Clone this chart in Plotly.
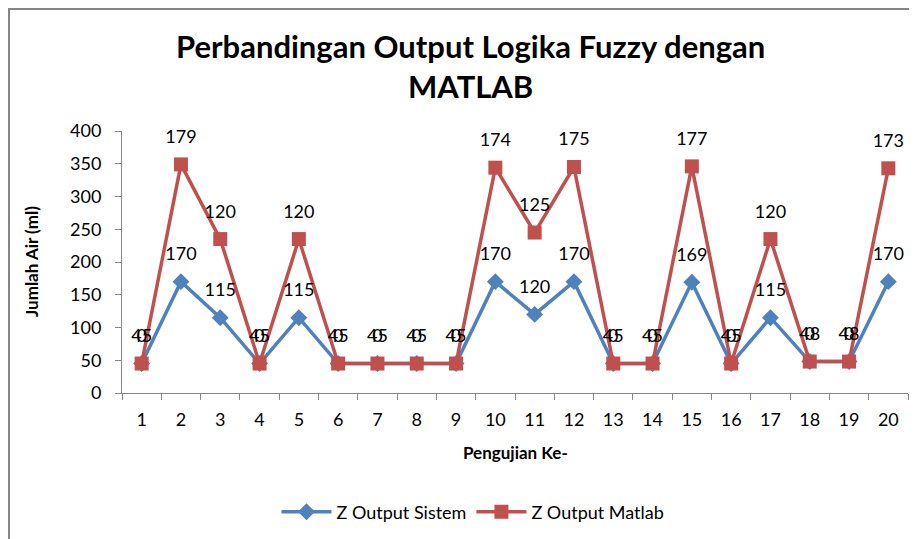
import plotly.graph_objects as go

categories = [str(i) for i in range(1, 21)]
sistem = [45, 170, 115, 45, 115, 45, 45, 45, 45, 170, 120, 170, 45, 45, 169, 45, 115, 48, 48, 170]
matlab = [0, 179, 120, 0, 120, 0, 0, 0, 0, 174, 125, 175, 0, 0, 177, 0, 120, 0, 0, 173]
y_ticks = [0, 50, 100, 150, 200, 250, 300, 350, 400]

BLUE = "#4F81BD"
RED = "#C0504D"
FONT = "Lato, Open Sans, sans-serif"
LABEL_LIFT = 26  # gap between marker and its data label (axis units)

# stacked line chart (Excel style): Matlab series drawn on top of Sistem
matlab_stacked = [a + b for a, b in zip(sistem, matlab)]

W, H = 917, 539
OFF = 8  # page body margin
L = 122 - OFF
T = 131 - OFF
R = W - (908 - OFF)
B = H - (393 - OFF)
PW, PH = W - L - R, H - T - B


def px_x(x):
    return (x - OFF - L) / PW


def px_y(y):
    return (H - B - (y - OFF)) / PH


fig = go.Figure()
fig.add_trace(go.Scatter(
    x=categories, y=sistem, name="Z Output Sistem",
    mode="lines+markers",
    line=dict(color=BLUE, width=3.5),
    marker=dict(symbol="diamond", size=13, color=BLUE),
))
fig.add_trace(go.Scatter(
    x=categories, y=matlab_stacked, name="Z Output Matlab",
    mode="lines+markers",
    line=dict(color=RED, width=3.5),
    marker=dict(symbol="square", size=14, color=RED),
))
for vals, pos in ((sistem, sistem), (matlab, matlab_stacked)):
    fig.add_trace(go.Scatter(
        x=categories, y=[p + LABEL_LIFT for p in pos], mode="text",
        text=[str(v) for v in vals], textposition="top center",
        textfont=dict(family=FONT, size=18, color="#000000"),
        cliponaxis=False, showlegend=False, hoverinfo="skip",
    ))

fig.update_layout(
    width=W, height=H,
    margin=dict(l=L, r=R, t=T, b=B, autoexpand=False),
    paper_bgcolor="white", plot_bgcolor="white",
    font=dict(family=FONT, color="#000000"),
    showlegend=True,
    legend=dict(
        orientation="h", x=px_x(473), xanchor="center", y=px_y(512), yanchor="middle",
        font=dict(family=FONT, size=18, color="#000000"),
        itemwidth=50,
    ),
    xaxis=dict(
        type="category", range=[-0.5, 19.5], tickson="boundaries", ticks="outside", ticklen=6,
        tickcolor="#868686", showline=True, linecolor="#868686", linewidth=1,
        showgrid=False, tickfont=dict(family=FONT, size=18), automargin=False,
        ticklabelstandoff=10,
    ),
    yaxis=dict(
        range=[0, 400], tickvals=y_ticks, ticks="outside", ticklen=6,
        tickcolor="#868686", showline=True, linecolor="#868686", linewidth=1,
        showgrid=False, zeroline=False, tickfont=dict(family=FONT, size=18), automargin=False,
        ticklabelstandoff=10,
    ),
    annotations=[
        dict(text="<b>Perbandingan Output Logika Fuzzy dengan</b>", xref="paper", yref="paper",
             x=px_x(470), y=px_y(46), xanchor="center", yanchor="middle",
             showarrow=False, font=dict(family=FONT, size=31)),
        dict(text="<b>MATLAB</b>", xref="paper", yref="paper",
             x=px_x(470), y=px_y(86), xanchor="center", yanchor="middle",
             showarrow=False, font=dict(family=FONT, size=31)),
        dict(text="<b>Pengujian Ke-</b>", xref="paper", yref="paper",
             x=px_x(515), y=px_y(452), xanchor="center", yanchor="middle",
             showarrow=False, font=dict(family=FONT, size=17)),
        dict(text="<b>Jumlah Air (ml)</b>", xref="paper", yref="paper",
             x=px_x(31), y=px_y(262), xanchor="center", yanchor="middle", textangle=-90,
             showarrow=False, font=dict(family=FONT, size=17)),
    ],
    shapes=[dict(
        type="rect", xref="paper", yref="paper",
        x0=px_x(9), x1=px_x(912), y0=px_y(560), y1=px_y(9),
        line=dict(color="#868686", width=2), fillcolor="rgba(0,0,0,0)", layer="below",
    )],
)

fig.write_html("out.html")
